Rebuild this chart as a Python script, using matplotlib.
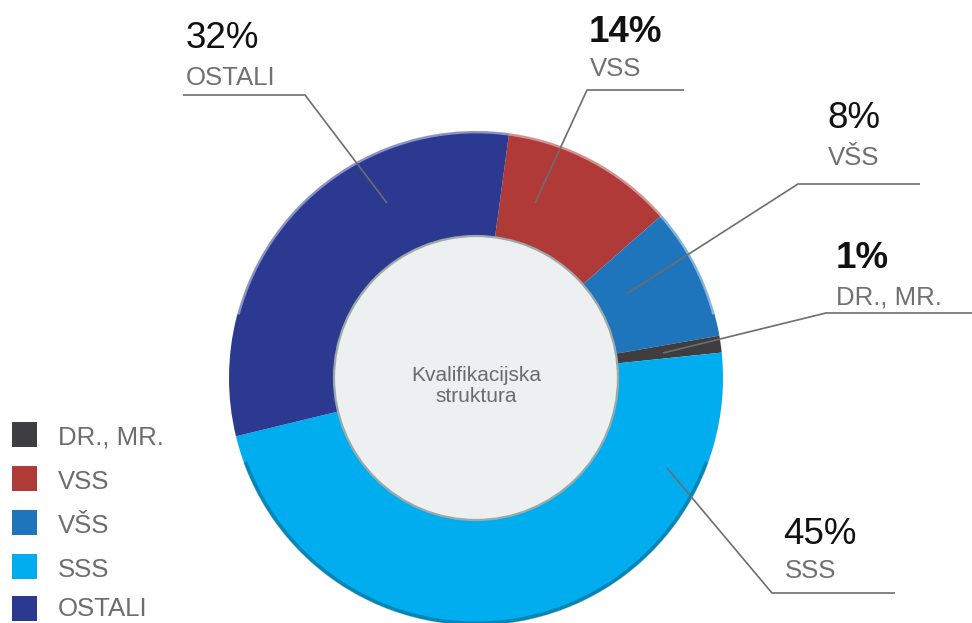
import matplotlib
matplotlib.use("Agg")
import matplotlib.pyplot as plt
from matplotlib.patches import Circle, Rectangle, Arc

# ---- data (clockwise from the top) ----
categories = ["VSS", "VŠS", "DR., MR.", "SSS", "OSTALI"]
shares = [11.4, 8.7, 1.1, 47.8, 30.9]          # slice sizes as drawn
pct_labels = ["14%", "8%", "1%", "45%", "32%"]  # printed percentages
colors = ["#B03A38", "#1F75BC", "#3E3E41", "#00AEEF", "#2B3990"]

legend_order = ["DR., MR.", "VSS", "VŠS", "SSS", "OSTALI"]
center_text = "Kvalifikacijska\nstruktura"

W, H = 972, 623
plt.rcParams['font.family'] = ['Liberation Sans', 'DejaVu Sans']

fig = plt.figure(figsize=(W / 100, H / 100), dpi=100)
ax = fig.add_axes([0, 0, 1, 1])

def Y(y):  # pixel (top-down) to data
    return H - y

cx, cy, R, ring = 476, 378, 247, 105
ax.pie(shares, colors=colors, startangle=90 - 7.7, counterclock=False,
       center=(cx, Y(cy)), radius=R,
       wedgeprops=dict(width=ring, linewidth=0))
ax.set_xlim(0, W)
ax.set_ylim(0, H)
ax.set_aspect('equal')
ax.axis('off')

# rim highlights
ax.add_patch(Arc((cx, Y(cy)), 2 * R - 2, 2 * R - 2, theta1=15, theta2=165,
                 color='white', alpha=0.45, lw=2, zorder=3))
ax.add_patch(Arc((cx, Y(cy)), 2 * R - 3, 2 * R - 3, theta1=200, theta2=340,
                 color='black', alpha=0.22, lw=3, zorder=3))

# inner disc
ax.add_patch(Circle((cx, Y(cy)), R - ring, facecolor='#EDF0F1',
                    edgecolor='#9DA9A9', lw=1.6, zorder=4))
ax.text(cx, Y(386), center_text, ha='center', va='center', fontsize=15,
        color='#6b6b6b', linespacing=1.1, zorder=5)

# labels: (pct x, pct baseline, name x, name baseline, bold)
label_pos = {
    "OSTALI": (186, 48, 186, 85, False),
    "VSS": (589, 42, 590, 76, True),
    "VŠS": (827, 128, 828, 165, False),
    "DR., MR.": (836, 268, 836, 305, True),
    "SSS": (783, 544, 785, 578, False),
}
leaders = {
    "OSTALI": [(183, 95), (305, 95), (387, 203)],
    "VSS": [(684, 90), (587, 90), (535, 203)],
    "VŠS": [(920, 184), (798, 184), (628, 293)],
    "DR., MR.": [(972, 313), (826, 313), (663, 353)],
    "SSS": [(667, 468), (772, 593), (895, 593)],
}
lc = '#6d6d6d'
for name, pct in zip(categories, pct_labels):
    px, py, nx, ny, bold = label_pos[name]
    ax.text(px, Y(py), pct, fontsize=26.5, color='#111111',
            fontweight='bold' if bold else 'normal', ha='left', va='baseline', zorder=6)
    ax.text(nx, Y(ny), name, fontsize=18.5, color='#707070',
            ha='left', va='baseline', zorder=6)
    pts = leaders[name]
    ax.plot([p[0] for p in pts], [Y(p[1]) for p in pts], color=lc, lw=1.2,
            zorder=6, solid_capstyle='butt')

# legend
col_of = dict(zip(categories, colors))
tops = [422, 466, 510, 554, 596]
baselines = [445, 489, 533, 577, 616]
for name, top, bl in zip(legend_order, tops, baselines):
    ax.add_patch(Rectangle((12, Y(top + 25)), 25, 25, facecolor=col_of[name],
                           edgecolor='none', zorder=6))
    ax.text(58, Y(bl), name, fontsize=18.5, color='#6d6d6d',
            ha='left', va='baseline', zorder=6)

fig.savefig("out.png", dpi=100)
